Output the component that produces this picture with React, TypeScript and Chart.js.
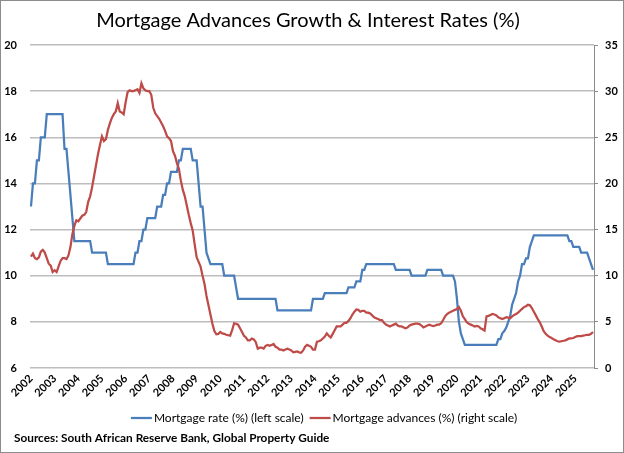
import { useEffect, useRef } from 'react';
import { Chart, registerables } from 'chart.js';

Chart.register(...registerables);

// ---- Data ----
const TITLE = 'Mortgage Advances Growth & Interest Rates (%)';
const SOURCE = 'Sources: South African Reserve Bank, Global Property Guide';
const RATE_LABEL = 'Mortgage rate (%) (left scale)';
const ADV_LABEL = 'Mortgage advances (%) (right scale)';

// year tick labels (one every 12 monthly categories)
const years = [2002, 2003, 2004, 2005, 2006, 2007, 2008, 2009, 2010, 2011, 2012, 2013,
  2014, 2015, 2016, 2017, 2018, 2019, 2020, 2021, 2022, 2023, 2024, 2025];
const monthsInLastYear = 10;

// monthly categories, Jan 2002 .. Oct 2025
const categories: string[] = [];
years.forEach((y, i) => {
  const n = i === years.length - 1 ? monthsInLastYear : 12;
  for (let m = 1; m <= n; m++) categories.push(`${y}-${String(m).padStart(2, '0')}`);
});

// Mortgage rate (%) - left scale, monthly
const mortgageRate = [
  /*2002*/ 13, 14, 14, 15, 15, 16, 16, 16, 17, 17, 17, 17,
  /*2003*/ 17, 17, 17, 17, 17, 15.5, 15.5, 14.5, 13.5, 12.5, 11.5, 11.5,
  /*2004*/ 11.5, 11.5, 11.5, 11.5, 11.5, 11.5, 11.5, 11, 11, 11, 11, 11,
  /*2005*/ 11, 11, 11, 10.5, 10.5, 10.5, 10.5, 10.5, 10.5, 10.5, 10.5, 10.5,
  /*2006*/ 10.5, 10.5, 10.5, 10.5, 10.5, 11, 11, 11.5, 11.5, 12, 12, 12.5,
  /*2007*/ 12.5, 12.5, 12.5, 12.5, 13, 13, 13, 13.5, 13.5, 14, 14, 14.5,
  /*2008*/ 14.5, 14.5, 14.5, 15, 15, 15.5, 15.5, 15.5, 15.5, 15.5, 15, 15,
  /*2009*/ 15, 14, 13, 13, 12, 11, 10.75, 10.5, 10.5, 10.5, 10.5, 10.5,
  /*2010*/ 10.5, 10.5, 10, 10, 10, 10, 10, 10, 9.5, 9, 9, 9,
  /*2011*/ 9, 9, 9, 9, 9, 9, 9, 9, 9, 9, 9, 9,
  /*2012*/ 9, 9, 9, 9, 9, 8.5, 8.5, 8.5, 8.5, 8.5, 8.5, 8.5,
  /*2013*/ 8.5, 8.5, 8.5, 8.5, 8.5, 8.5, 8.5, 8.5, 8.5, 8.5, 8.5, 9,
  /*2014*/ 9, 9, 9, 9, 9, 9.25, 9.25, 9.25, 9.25, 9.25, 9.25, 9.25,
  /*2015*/ 9.25, 9.25, 9.25, 9.25, 9.25, 9.5, 9.5, 9.5, 9.5, 9.75, 9.75, 9.75,
  /*2016*/ 10.25, 10.25, 10.5, 10.5, 10.5, 10.5, 10.5, 10.5, 10.5, 10.5, 10.5, 10.5,
  /*2017*/ 10.5, 10.5, 10.5, 10.5, 10.5, 10.25, 10.25, 10.25, 10.25, 10.25, 10.25, 10.25,
  /*2018*/ 10.25, 10, 10, 10, 10, 10, 10, 10, 10, 10.25, 10.25, 10.25,
  /*2019*/ 10.25, 10.25, 10.25, 10.25, 10.25, 10, 10, 10, 10, 10, 10, 9.75,
  /*2020*/ 9, 8, 7.5, 7.25, 7, 7, 7, 7, 7, 7, 7, 7,
  /*2021*/ 7, 7, 7, 7, 7, 7, 7, 7, 7, 7.25, 7.25, 7.5,
  /*2022*/ 7.6, 7.75, 8, 8.25, 8.75, 9, 9.25, 9.75, 10, 10.5, 10.5, 10.75,
  /*2023*/ 10.75, 11.25, 11.5, 11.75, 11.75, 11.75, 11.75, 11.75, 11.75, 11.75, 11.75, 11.75,
  /*2024*/ 11.75, 11.75, 11.75, 11.75, 11.75, 11.75, 11.75, 11.75, 11.75, 11.5, 11.5, 11.25,
  /*2025*/ 11.25, 11.25, 11.25, 11, 11, 11, 11, 10.75, 10.5, 10.25,
];

// Mortgage advances growth (%) - right scale, monthly
const mortgageAdvances = [
  /*2002*/ 12.06, 12.4, 11.9, 11.8, 12.0, 12.6, 12.8, 12.5, 11.9, 11.3, 11.1, 10.4,
  /*2003*/ 10.6, 10.4, 11.0, 11.6, 11.9, 11.9, 11.8, 12.2, 13.1, 14.5, 15.4, 16.0,
  /*2004*/ 15.9, 16.2, 16.5, 16.6, 16.9, 18.0, 18.6, 19.6, 20.8, 22.0, 23.2, 24.2,
  /*2005*/ 25.1, 24.6, 24.8, 25.8, 26.5, 27.1, 27.5, 27.8, 28.7, 27.8, 27.7, 27.5,
  /*2006*/ 28.8, 29.9, 30.1, 30.0, 30.0, 30.1, 30.2, 29.8, 30.85, 30.3, 30.1, 30.0,
  /*2007*/ 30.0, 29.6, 28.2, 27.6, 27.3, 27.0, 26.6, 26.2, 25.7, 25.1, 24.9, 24.6,
  /*2008*/ 23.5, 23.0, 22.2, 21.6, 20.3, 19.3, 18.6, 17.6, 16.6, 15.7, 14.9, 13.4,
  /*2009*/ 12.0, 11.5, 11.0, 10.0, 9.1, 7.8, 6.8, 5.8, 4.8, 4.0, 3.65, 3.7,
  /*2010*/ 3.9, 3.75, 3.7, 3.6, 3.55, 3.5, 4.1, 4.85, 4.8, 4.7, 4.3, 3.9,
  /*2011*/ 3.5, 3.3, 3.0, 3.0, 3.2, 3.1, 2.8, 2.1, 2.2, 2.2, 2.1, 2.4,
  /*2012*/ 2.5, 2.4, 2.5, 2.6, 2.3, 2.2, 2.0, 2.0, 1.9, 2.0, 2.1, 2.0,
  /*2013*/ 1.9, 1.7, 1.75, 1.8, 1.7, 1.65, 1.9, 2.3, 2.5, 2.4, 2.3, 2.0,
  /*2014*/ 2.0, 2.85, 2.9, 3.0, 3.2, 3.4, 3.75, 3.5, 3.3, 3.7, 4.1, 4.5,
  /*2015*/ 4.5, 4.5, 4.7, 4.9, 4.9, 5.1, 5.4, 5.8, 6.1, 6.35, 6.3, 6.1,
  /*2016*/ 6.2, 6.2, 6.0, 6.0, 5.9, 5.7, 5.5, 5.4, 5.3, 5.2, 5.2, 4.9,
  /*2017*/ 4.7, 4.6, 4.5, 4.6, 4.7, 4.8, 4.6, 4.5, 4.5, 4.4, 4.3, 4.4,
  /*2018*/ 4.6, 4.7, 4.75, 4.8, 4.8, 4.75, 4.6, 4.4, 4.5, 4.6, 4.7, 4.6,
  /*2019*/ 4.55, 4.6, 4.7, 4.7, 4.85, 5.2, 5.6, 5.85, 6.0, 6.1, 6.2, 6.3,
  /*2020*/ 6.4, 6.6, 6.2, 5.6, 5.3, 4.95, 4.8, 4.7, 4.6, 4.5, 4.55, 4.5,
  /*2021*/ 4.3, 4.2, 4.05, 5.6, 5.65, 5.75, 5.85, 5.8, 5.7, 5.5, 5.4, 5.3,
  /*2022*/ 5.4, 5.5, 5.45, 5.4, 5.6, 5.75, 5.85, 6.0, 6.2, 6.4, 6.6, 6.7,
  /*2023*/ 6.85, 6.8, 6.5, 6.1, 5.7, 5.3, 4.95, 4.5, 4.0, 3.7, 3.5, 3.35,
  /*2024*/ 3.25, 3.1, 3.0, 2.9, 2.85, 2.9, 2.95, 3.0, 3.1, 3.2, 3.2, 3.25,
  /*2025*/ 3.35, 3.45, 3.45, 3.45, 3.5, 3.55, 3.6, 3.6, 3.7, 3.9,
];

const BLUE = '#4a7ebb';
const RED = '#be4b48';
const FONT = 'Lato';

const decor = {
  id: 'decor',
  beforeDraw(chart: any) {
    const ctx = chart.ctx;
    ctx.save();
    ctx.fillStyle = '#ffffff';
    ctx.fillRect(0, 0, chart.width, chart.height);
    ctx.restore();
  },
  afterDraw(chart: any) {
    const ctx = chart.ctx as CanvasRenderingContext2D;
    ctx.save();
    // outer frame
    ctx.strokeStyle = '#8c8c8c';
    ctx.lineWidth = 1;
    ctx.strokeRect(0.5, 0.5, chart.width - 1, chart.height - 1);
    // title
    ctx.fillStyle = '#000';
    ctx.font = `20px ${FONT}`;
    ctx.textAlign = 'center';
    ctx.textBaseline = 'middle';
    ctx.fillText(TITLE, 308, 21);
    // legend
    ctx.font = `12px ${FONT}`;
    const w1 = ctx.measureText(RATE_LABEL).width;
    const w2 = ctx.measureText(ADV_LABEL).width;
    const lineLen = 21;
    const gap = 2;
    const between = 6;
    const total = lineLen + gap + w1 + between + lineLen + gap + w2;
    let x = 324 - total / 2;
    const ly = 418;
    ctx.lineWidth = 2.25;
    ctx.strokeStyle = BLUE;
    ctx.beginPath(); ctx.moveTo(x, ly); ctx.lineTo(x + lineLen, ly); ctx.stroke();
    x += lineLen + gap;
    ctx.textAlign = 'left';
    ctx.fillText(RATE_LABEL, x, ly);
    x += w1 + between;
    ctx.strokeStyle = RED;
    ctx.beginPath(); ctx.moveTo(x, ly); ctx.lineTo(x + lineLen, ly); ctx.stroke();
    x += lineLen + gap;
    ctx.fillText(ADV_LABEL, x, ly);
    // source
    ctx.font = `bold 11.8px ${FONT}`;
    ctx.fillText(SOURCE, 14, 438);
    ctx.restore();
  },
};

export default function App() {
  const ref = useRef<HTMLCanvasElement | null>(null);

  useEffect(() => {
    document.body.style.margin = '0';
    const canvas = ref.current;
    if (!canvas) return;
    const tickFont = { family: FONT, size: 11, weight: 'bold' as const };
    const chart = new Chart(canvas, {
      type: 'line',
      data: {
        labels: categories,
        datasets: [
          {
            label: RATE_LABEL,
            data: mortgageRate,
            yAxisID: 'y',
            borderColor: BLUE,
            backgroundColor: BLUE,
            borderWidth: 2.25,
            pointRadius: 0,
            tension: 0,
            order: 1,
          },
          {
            label: ADV_LABEL,
            data: mortgageAdvances,
            yAxisID: 'y2',
            borderColor: RED,
            backgroundColor: RED,
            borderWidth: 2.25,
            pointRadius: 0,
            tension: 0,
            order: 0,
          },
        ],
      },
      options: {
        responsive: false,
        animation: false,
        devicePixelRatio: 1,
        layout: { padding: { top: 45, left: 0, right: 0, bottom: 0 } },
        plugins: {
          legend: { display: false },
          title: { display: false },
          tooltip: { enabled: false },
        },
        scales: {
          x: {
            type: 'category',
            offset: true,
            grid: { display: false, drawTicks: false },
            border: { display: false },
            ticks: {
              autoSkip: false,
              minRotation: 45,
              maxRotation: 45,
              padding: 4,
              color: '#000',
              font: tickFont,
              callback: (_v: any, index: number) => {
                const lab = categories[index];
                return lab.endsWith('-01') ? lab.slice(0, 4) : null;
              },
            },
            afterFit: (s: any) => { s.height = 85; },
          },
          y: {
            position: 'left',
            min: 6,
            max: 20,
            ticks: { stepSize: 2, padding: 13, color: '#000', font: tickFont },
            grid: { color: '#bdbdbd', lineWidth: 1.5, drawTicks: false },
            border: { display: false },
            afterFit: (s: any) => { s.width = 30; },
          },
          y2: {
            position: 'right',
            min: 0,
            max: 35,
            ticks: { stepSize: 5, padding: 7, color: '#000', font: tickFont },
            grid: { drawOnChartArea: false, drawTicks: true, tickLength: 4, color: '#8c8c8c' },
            border: { display: true, color: '#8c8c8c', width: 1 },
            afterFit: (s: any) => { s.width = 30; },
          },
        },
      },
      plugins: [decor],
    });
    return () => chart.destroy();
  }, []);

  return <canvas ref={ref} width={624} height={453} style={{ display: 'block' }} />;
}
